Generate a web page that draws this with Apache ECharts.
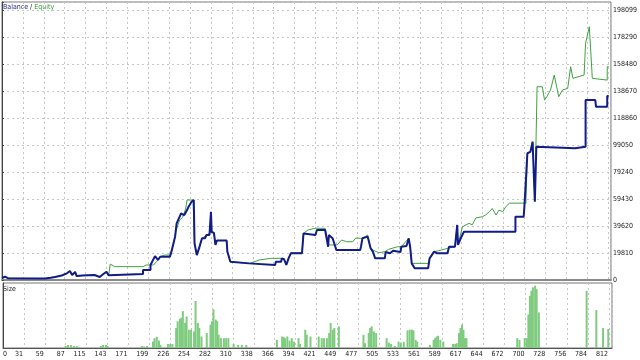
<!DOCTYPE html>
<html>
<head>
<meta charset="utf-8">
<script src="https://cdn.jsdelivr.net/npm/echarts@6/dist/echarts.min.js"></script>
<style>
  html, body { margin: 0; padding: 0; background: #fff; }
  #chart { width: 640px; height: 360px; }
</style>
</head>
<body>
<div id="chart"></div>
<script>
// trade number -> account value
const balance = [
  [0, 1500], [4, 2400], [8, 1300], [58, 1100], [65, 1600], [71, 2200], [80, 3300],
  [87, 4900], [91, 6600], [94, 3700], [98, 5900], [100, 2900], [108, 3300], [124, 3700],
  [131, 2200], [135, 4000], [140, 6100], [143, 3400], [144, 4400], [189, 4400], [189, 7300],
  [199, 7300], [199, 11000], [205, 17500], [209, 14700], [212, 17100], [225, 17100],
  [227, 20800], [232, 32000], [234, 41600], [240, 48900], [244, 47500], [248, 51300],
  [250, 53800], [254, 57400], [257, 58700], [258, 26900], [261, 18300], [264, 23200],
  [268, 30600], [272, 30600], [274, 33000], [278, 33000], [280, 50100], [281, 35400],
  [284, 34500], [286, 25700], [288, 29000], [301, 29000], [302, 20800], [306, 13400],
  [308, 12200], [331, 12200], [332, 11000], [366, 11000], [367, 13400], [374, 13400],
  [375, 15900], [378, 15200], [381, 11000], [384, 15900], [387, 19600], [402, 19600],
  [404, 34200], [406, 33000], [420, 33000], [422, 36700], [433, 36700], [435, 35500],
  [437, 24400], [438, 33000], [443, 30600], [448, 22000], [480, 22000], [481, 24400],
  [483, 30600], [490, 31800], [492, 31800], [494, 23200], [497, 20800], [500, 15900],
  [513, 15900], [514, 20500], [520, 19600], [524, 21500], [534, 20500], [535, 24400],
  [542, 25000], [545, 30600], [547, 24000], [549, 12200], [553, 8600], [571, 8600],
  [573, 15900], [579, 20800], [583, 19600], [597, 19600], [599, 24400], [607, 24400],
  [610, 40400], [611, 25700], [615, 31000], [619, 35400], [688, 35400], [688, 46400],
  [699, 46400], [700, 53800], [704, 93000], [708, 94000], [711, 101500], [714, 57400],
  [716, 97800], [717, 96600], [768, 96600], [769, 97800], [782, 97800], [782, 132000],
  [795, 132000], [796, 127100], [811, 127100], [811, 135000], [813, 135000]
];

const equity = [
  [0, 1500], [4, 2400], [8, 1300], [58, 1100], [65, 1600], [71, 2200], [80, 3300],
  [87, 4900], [91, 6600], [94, 3700], [98, 5900], [100, 2900], [108, 3300], [124, 3700],
  [131, 2200], [135, 4000], [140, 6100], [143, 3400], [144, 4400], [145, 11700],
  [151, 9800], [189, 9800], [193, 11000], [203, 11000], [207, 13400], [212, 17100],
  [218, 18300], [226, 18300], [230, 27000], [233, 36000], [238, 44000], [242, 46000],
  [246, 52000], [248, 58700], [256, 58700], [258, 27500], [261, 18300], [264, 23200],
  [268, 30600], [274, 33000], [280, 35000], [284, 34500], [286, 25700], [288, 29000],
  [301, 29000], [302, 20800], [306, 13400], [308, 12200], [331, 12200], [335, 12800],
  [345, 14700], [360, 15900], [374, 15900], [378, 15200], [381, 11500], [384, 15900],
  [387, 20000], [402, 20000], [404, 34200], [410, 36700], [420, 38000], [433, 37900],
  [437, 26000], [440, 25700], [449, 25700], [455, 29300], [462, 28100], [470, 28100],
  [474, 30800], [480, 30600], [483, 30600], [490, 33000], [492, 33000], [494, 23200],
  [497, 22000], [505, 20000], [513, 20800], [518, 22500], [530, 24400], [535, 24400],
  [545, 30600], [547, 24000], [549, 12200], [571, 12200], [573, 15900], [579, 20800],
  [585, 21500], [597, 23200], [599, 24400], [607, 24400], [610, 40400], [611, 25700],
  [617, 39100], [626, 41600], [630, 40400], [635, 45500], [644, 46500], [648, 47700],
  [653, 50100], [657, 52500], [662, 47700], [666, 51300], [671, 50100], [675, 53800],
  [680, 56400], [702, 56400], [704, 93000], [708, 94000], [711, 101500], [714, 58000],
  [717, 141800], [724, 141800], [727, 132000], [730, 134500], [735, 139400], [740, 150400],
  [746, 134500], [751, 139400], [758, 140600], [762, 156500], [765, 148000], [780, 150400],
  [782, 173700], [787, 185900], [791, 148000], [793, 146700], [811, 146700],
  [811, 156500], [813, 156500]
];

// trade number -> position size (sub window)
const size = [
  [84, 2], [87, 3], [91, 3], [95, 2], [99, 2], [131, 2], [134, 3], [138, 3], [140, 2],
  [186, 2], [189, 1.5], [193, 2], [201, 6.3], [203, 9.7], [206, 11], [209, 7.3], [211, 3],
  [221, 4], [224, 4], [227, 4], [232, 19.7], [234, 26.3], [237, 28.7], [239, 29.7],
  [241, 36.3], [244, 24.7], [246, 31], [249, 18], [252, 18], [256, 16.3], [258, 46.3],
  [261, 24.7], [263, 19.7], [266, 11.3], [273, 14.7], [278, 23], [280, 26.3], [282, 38],
  [285, 28], [287, 26.3], [289, 13], [292, 9.7], [296, 9.7], [299, 9.7], [302, 9.7],
  [309, 4], [315, 3], [320, 3], [326, 3], [367, 8], [374, 11.3], [376, 10.7], [378, 9.7],
  [381, 11.3], [384, 7.3], [387, 9.7], [390, 6.3], [396, 9.7], [398, 4], [405, 18],
  [407, 13], [412, 11.3], [423, 11.3], [427, 9.7], [430, 9.7], [434, 9.7], [437, 14.7],
  [439, 24.7], [442, 18], [444, 19.7], [450, 21.3], [483, 13], [485, 4.7], [490, 14.7],
  [492, 19.7], [494, 21.3], [497, 16.3], [500, 14.7], [514, 9.7], [517, 5.3], [520, 4],
  [525, 2], [530, 6.3], [533, 5.3], [537, 6], [542, 17.3], [545, 18], [548, 18], [550, 17.3],
  [553, 8], [555, 6.3], [572, 3], [577, 8], [579, 9.7], [581, 11.3], [583, 12], [586, 8],
  [590, 6.3], [603, 4], [606, 4], [608, 4.7], [611, 14.7], [613, 19.7], [615, 23],
  [617, 18], [619, 9.7], [621, 9.7], [689, 9.7], [692, 8], [699, 9.7], [702, 9.7],
  [704, 33], [706, 51.3], [708, 56.3], [710, 59.7], [713, 61.3], [715, 58], [718, 35],
  [782, 56.3], [795, 37.3], [804, 19.7], [811, 18.7]
];

const xTickLabels = ['0', '31', '59', '87', '115', '143', '171', '199', '226', '254', '282',
  '310', '338', '366', '394', '421', '449', '477', '505', '533', '561', '589', '617', '644',
  '672', '700', '728', '756', '784', '812'];
const yTickLabels = ['0', '19810', '39620', '59430', '79240', '99050', '118860', '138670',
  '158480', '178290', '198099'];

const X_STEP = 28;
const Y_STEP = 19810;
const FONT = '"Liberation Sans Narrow", "DejaVu Sans Condensed", sans-serif';
const GRID_LINE = { show: true, lineStyle: { color: '#c6c6c6', width: 1, type: [2, 3] } };

function pick(labels, step) {
  return v => {
    const i = Math.round(v / step);
    if (Math.abs(v - i * step) > 0.5) return '';
    return labels[i] == null ? '' : labels[i];
  };
}

const chart = echarts.init(document.getElementById('chart'), null, { renderer: 'canvas' });

chart.setOption({
  animation: false,
  backgroundColor: '#fff',
  grid: [
    { left: 2, right: 28, top: 2, height: 278, show: true, borderColor: '#777', borderWidth: 1 },
    { left: 2, right: 28, top: 283, height: 65, show: true, borderColor: '#777', borderWidth: 1 }
  ],
  xAxis: [
    {
      gridIndex: 0, type: 'value', min: 0, max: 816, interval: X_STEP,
      // thick grey separator above the size window
      axisLine: { show: true, onZero: false, lineStyle: { color: '#8a8a8a', width: 2 } },
      axisTick: { show: false }, axisLabel: { show: false },
      splitLine: GRID_LINE
    },
    {
      gridIndex: 1, type: 'value', min: 0, max: 816, interval: X_STEP,
      axisLine: { show: true, lineStyle: { color: '#555' } },
      axisTick: { show: false },
      axisLabel: {
        formatter: pick(xTickLabels, X_STEP), align: 'right', margin: 3,
        alignMinLabel: 'left', padding: [0, 1, 0, 0],
        fontFamily: FONT, fontSize: 7, color: '#222'
      },
      splitLine: GRID_LINE
    }
  ],
  yAxis: [
    {
      gridIndex: 0, type: 'value', position: 'right', min: 0, max: 204000, interval: Y_STEP,
      axisLine: { show: true, lineStyle: { color: '#444' } },
      axisTick: { show: true, length: 2, lineStyle: { color: '#444' } },
      axisLabel: {
        formatter: pick(yTickLabels, Y_STEP), margin: 2,
        fontFamily: FONT, fontSize: 7, color: '#222'
      },
      splitLine: GRID_LINE
    },
    {
      gridIndex: 1, type: 'value', position: 'right', min: 0, max: 64,
      axisLine: { show: true, lineStyle: { color: '#444' } },
      axisTick: { show: false }, axisLabel: { show: false }, splitLine: { show: false }
    }
  ],
  graphic: [
    {
      type: 'text', left: 3, top: 4,
      style: {
        text: '{b|Balance} / {e|Equity}', fontFamily: FONT, fontSize: 7, fill: '#222',
        rich: { b: { fill: '#1a1f8c', fontFamily: FONT, fontSize: 7 },
                e: { fill: '#2f9a2f', fontFamily: FONT, fontSize: 7 } }
      }
    },
    {
      type: 'text', left: 3, top: 286,
      style: { text: 'Size', fontFamily: FONT, fontSize: 7, fill: '#222' }
    }
  ],
  series: [
    {
      name: 'Size', type: 'bar', xAxisIndex: 1, yAxisIndex: 1, data: size,
      barWidth: 2, itemStyle: { color: '#7fcb7f' }
    },
    {
      name: 'Equity', type: 'line', xAxisIndex: 0, yAxisIndex: 0, data: equity,
      showSymbol: false, lineStyle: { color: '#3fa23f', width: 1 }
    },
    {
      name: 'Balance', type: 'line', xAxisIndex: 0, yAxisIndex: 0, data: balance,
      showSymbol: false, lineStyle: { color: '#121c86', width: 2 }
    }
  ]
});
</script>
</body>
</html>
